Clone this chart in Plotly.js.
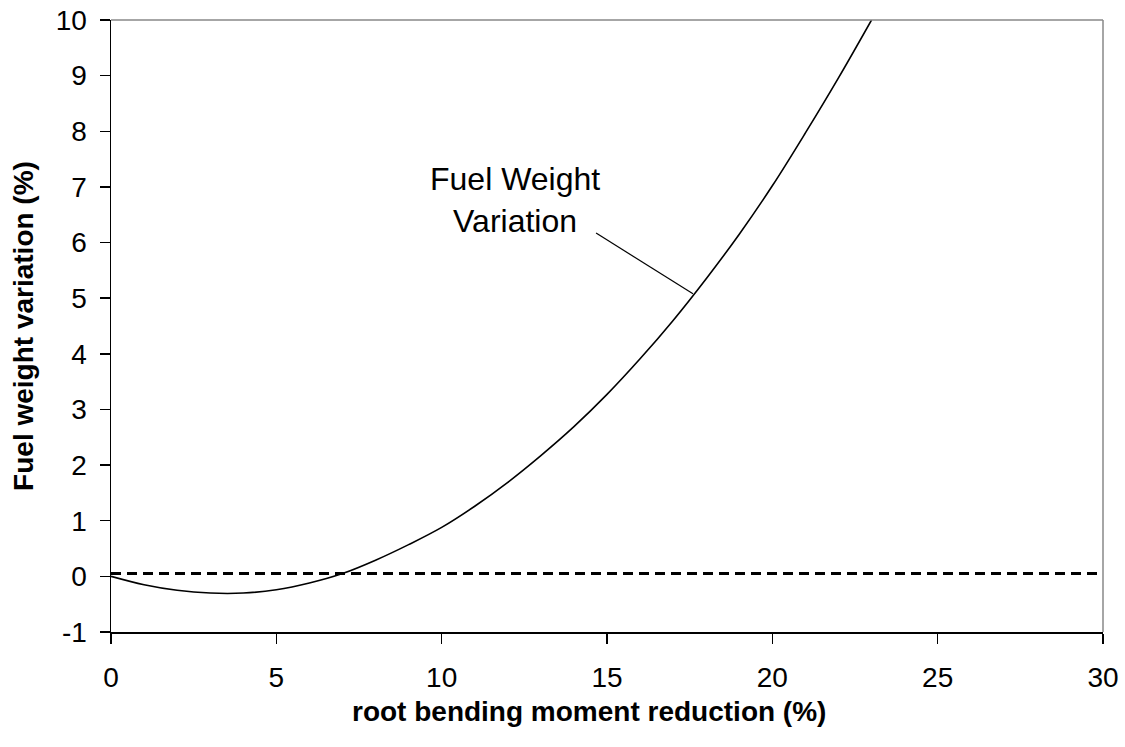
<!DOCTYPE html>
<html>
<head>
<meta charset="utf-8">
<script src="https://cdn.plot.ly/plotly-3.0.1.min.js"></script>
<style>html,body{margin:0;padding:0;background:#fff;}#chart{width:1125px;height:747px;}</style>
</head>
<body>
<div id="chart"></div>
<script>
var rbmReduction = [0,1,2,3,4,5,6,7,8,9,10,11,12,13,14,15,16,17,18,19,20,21,22,23];
var fuelVariation = [0,-0.15,-0.25,-0.3,-0.3,-0.24,-0.12,0.05,0.29,0.57,0.88,1.26,1.69,2.17,2.69,3.27,3.91,4.6,5.35,6.15,7.02,7.97,8.96,10.0];
var refX = [0,30];
var refY = [0.05,0.05];
var labelText = "Fuel Weight<br>Variation";
var xTitle = "<b>root bending moment reduction (%)</b>";
var yTitle = "<b>Fuel weight variation (%)</b>";
var xTicks = [0,5,10,15,20,25,30];
var yTicks = [-1,0,1,2,3,4,5,6,7,8,9,10];
var yTickText = ["-1","0","1","2","3","4","5","6","7","8","9","10"];

var font = "Arial, 'Liberation Sans', sans-serif";
var traces = [
  {x: refX, y: refY, mode: 'lines', line: {color: '#000', width: 3, dash: '10px,6px'}, hoverinfo: 'skip'},
  {x: rbmReduction, y: fuelVariation, mode: 'lines', line: {color: '#000', width: 1.6, shape: 'spline'}, hoverinfo: 'skip'}
];
var layout = {
  width: 1125, height: 747,
  margin: {l: 111, r: 22, t: 20, b: 115},
  paper_bgcolor: '#fff', plot_bgcolor: '#fff',
  showlegend: false,
  font: {family: font, color: '#000', size: 28},
  xaxis: {
    range: [0, 30], tickvals: xTicks, ticks: 'outside', ticklen: 10, tickwidth: 1.5, tickcolor: '#000',
    showline: true, linecolor: '#000', linewidth: 1.5, showgrid: false, zeroline: false,
    tickfont: {size: 28}, ticklabelstandoff: 10
  },
  yaxis: {
    range: [-1, 10], tickvals: yTicks, ticktext: yTickText, ticks: 'outside', ticklen: 10, tickwidth: 1.5, tickcolor: '#000',
    showline: true, linecolor: '#000', linewidth: 1.5, showgrid: false, zeroline: false,
    tickfont: {size: 28}, ticklabelstandoff: 7,
    title: {text: yTitle, font: {size: 28}, standoff: 14}
  },
  shapes: [
    {type: 'line', xref: 'paper', yref: 'paper', x0: 0, x1: 1, y0: 1, y1: 1, line: {color: '#888', width: 1.5}},
    {type: 'line', xref: 'paper', yref: 'paper', x0: 1, x1: 1, y0: 0, y1: 1, line: {color: '#888', width: 1.5}},
    {type: 'line', xref: 'x', yref: 'y', x0: 14.67, y0: 6.17, x1: 17.6, y1: 5.08, line: {color: '#000', width: 1.2}}
  ],
  annotations: [
    {x: 12.22, y: 6.76, xref: 'x', yref: 'y', text: labelText, showarrow: false, align: 'center',
     font: {size: 32, family: font, color: '#000'}},
    {x: 0.482, y: -0.13, xref: 'paper', yref: 'paper', text: xTitle, showarrow: false,
     xanchor: 'center', yanchor: 'middle', font: {size: 28, family: font, color: '#000'}}
  ]
};
Plotly.newPlot('chart', traces, layout, {staticPlot: true, displayModeBar: false});
</script>
</body>
</html>
